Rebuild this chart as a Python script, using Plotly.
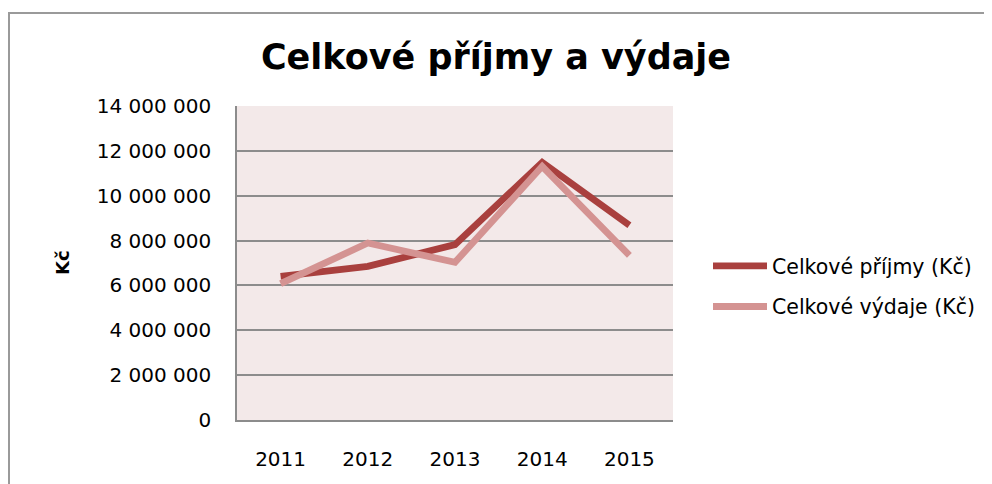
import plotly.graph_objects as go

years = ["2011", "2012", "2013", "2014", "2015"]
prijmy = [6400000, 6850000, 7820000, 11490000, 8680000]
vydaje = [6080000, 7890000, 7030000, 11310000, 7340000]
series_names = ["Celkové příjmy (Kč)", "Celkové výdaje (Kč)"]
y_ticks = [0, 2000000, 4000000, 6000000, 8000000, 10000000, 12000000, 14000000]

FONT = "'DejaVu Sans', sans-serif"
OFF = 8  # page body margin
FW, FH = 992 - OFF, 484 - OFF

fig = go.Figure()
fig.add_trace(go.Scatter(x=years, y=prijmy, mode="lines", name=series_names[0],
                         line=dict(color="#A9403E", width=6.8), legendgroup="a"))
fig.add_trace(go.Scatter(x=years, y=vydaje, mode="lines", name=series_names[1],
                         line=dict(color="#D49392", width=6.8), legendgroup="b"))

# plot area in screen pixels
SX0, SX1, SY0, SY1 = 237, 673, 106, 420
L, R = SX0 - OFF, FW - (SX1 - OFF)
T, B = SY0 - OFF, FH - (SY1 - OFF)
W, H = SX1 - SX0, SY1 - SY0

def px(x):  # screen x -> paper
    return (x - SX0) / W

def py(y):  # screen y -> paper
    return (SY1 - y) / H

fig.update_layout(
    width=FW, height=FH,
    margin=dict(l=L, r=R, t=T, b=B, autoexpand=False),
    paper_bgcolor="white",
    plot_bgcolor="#F3E9E9",
    separators=", ",
    font=dict(family=FONT, size=20, color="#000000"),
    title=dict(text="<b>Celkové příjmy a výdaje</b>", font=dict(size=35, family=FONT, color="#000"),
               x=(496 - OFF) / FW, xanchor="center", y=1 - (57 - OFF) / FH, yanchor="middle",
               xref="container", yref="container"),
    showlegend=True,
    legend=dict(x=px(708), y=py(246), xanchor="left", yanchor="top",
                font=dict(size=20.5, family=FONT), tracegroupgap=11, itemwidth=54,
                bgcolor="rgba(0,0,0,0)", traceorder="grouped"),
    xaxis=dict(type="category", range=[-0.5, 4.5], showgrid=False, showline=True,
               linecolor="#8C8C8C", linewidth=1.5,
               ticks="", ticklabelstandoff=20, tickfont=dict(size=20, family=FONT)),
    yaxis=dict(range=[0, 14000000], tickvals=y_ticks, tickformat=",.0f",
               showgrid=True, gridcolor="#8C8C8C", gridwidth=1.5,
               showline=True, linecolor="#8C8C8C", linewidth=1.5, zeroline=False,
               ticks="", ticklabelstandoff=20, tickfont=dict(size=20, family=FONT)),
    shapes=[
        dict(type="path", xref="paper", yref="paper",
             path=f"M {px(9)},{py(490)} L {px(9)},{py(13)} L {px(1000)},{py(13)}",
             line=dict(color="#9A9A9A", width=2)),
    ],
    annotations=[
        dict(text="<b>Kč</b>", xref="paper", yref="paper", x=px(62), y=py(263),
             xanchor="center", yanchor="middle", textangle=-90, showarrow=False,
             font=dict(size=18, family=FONT, color="#000")),
    ],
)

fig.write_html("out.html")
